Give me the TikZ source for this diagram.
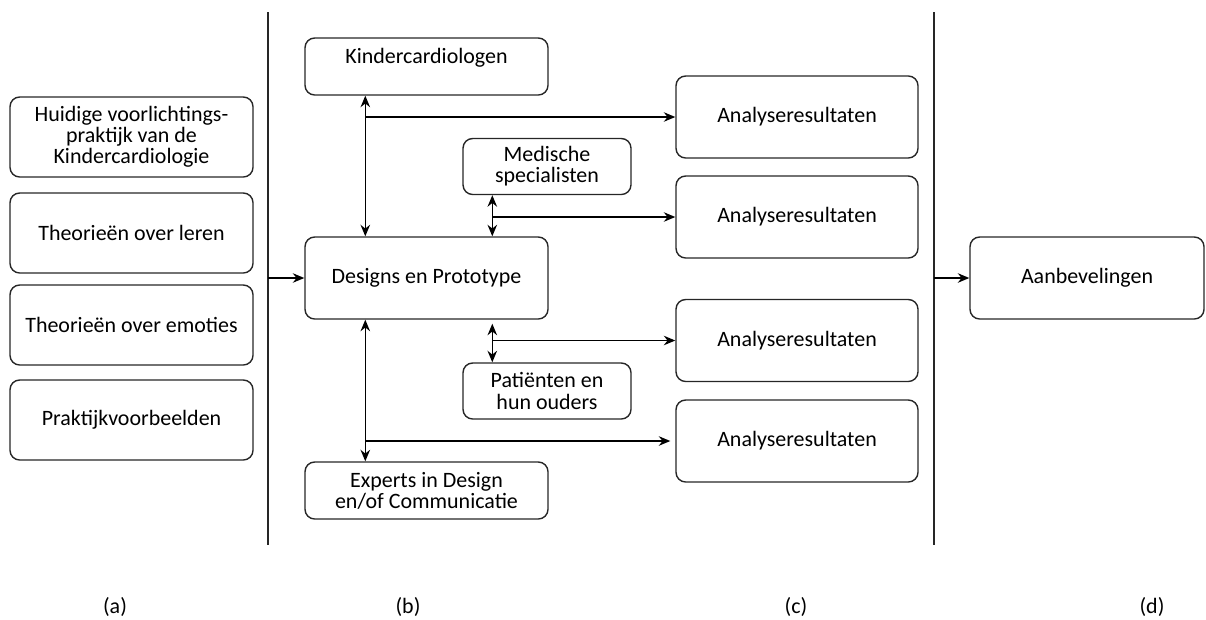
\documentclass[tikz,border=0pt]{standalone}
\usepackage{fontspec}
\setmainfont{Carlito}
\usetikzlibrary{arrows.meta,positioning,calc}
\tikzset{
  fasebox/.style={draw=black!85,line width=0.8pt,rounded corners=5.5pt,align=center,font=\fontsize{12.5}{12}\selectfont,inner sep=2pt},
  brbox/.style={fasebox,minimum width=243*0.02cm,minimum height=80*0.02cm},
  midbox/.style={fasebox,minimum width=243*0.02cm,minimum height=57*0.02cm},
  smbox/.style={fasebox,minimum width=168*0.02cm,minimum height=56*0.02cm},
  resbox/.style={fasebox,minimum width=242*0.02cm,minimum height=82*0.02cm},
  faselijn/.style={draw=black!85,line width=0.8pt},
  fasepijl/.style={-{Stealth[length=2.3mm,width=1.9mm]},draw=black,line width=0.8pt},
  dubbelpijl/.style={{Stealth[length=2.3mm,width=1.9mm]}-{Stealth[length=2.3mm,width=1.9mm]},draw=black,line width=0.8pt},
  faselabel/.style={font=\fontsize{12.5}{12}\selectfont}
}
\begin{document}
\begin{tikzpicture}[x=0.02cm,y=-0.02cm]
\useasboundingbox (0,0) rectangle (1206,619);
% (a) bronnen
\node[brbox] (bron1) at (131.5,137) {Huidige voorlichtings-\\praktijk van de\\Kindercardiologie};
\node[brbox] (bron2) at (131.5,233) {Theorieën over leren};
\node[brbox] (bron3) at (131.5,325) {Theorieën over emoties};
\node[brbox] (bron4) at (131.5,420) {Praktijkvoorbeelden};
% scheidingslijnen
\coordinate (lijnA) at (268,12);
\coordinate (lijnB) at (934,12);
\draw[faselijn] (lijnA) -- ++(0,533);
\draw[faselijn] (lijnB) -- ++(0,533);
% (b) ontwerp en evaluatie
\node[midbox] (kinder) at (426.5,66.5) {Kindercardiologen\\\mbox{}};
\node[smbox] (medisch) at (547,166.5) {Medische\\specialisten};
\node[fasebox,minimum width=243*0.02cm,minimum height=82*0.02cm] (design) at (426.5,278) {Designs en Prototype};
\node[smbox] (patient) at (547,391) {Patiënten en\\hun ouders};
\node[midbox] (expert) at (426.5,490.5) {Experts in Design\\en/of Communicatie};
% (c) resultaten
\foreach \n/\y in {1/117,2/217,3/340.5,4/441}{
  \node[resbox] (res\n) at (797,\y) {Analyseresultaten};
}
% (d)
\node[fasebox,minimum width=234*0.02cm,minimum height=82*0.02cm] (advies) at (1087,278) {Aanbevelingen};
% verbindingen
\coordinate (k1) at ($(kinder.south west)+(61,0)$);
\coordinate (m1) at ($(medisch.south west)+(30,0)$);
\coordinate (m2) at ($(design.south -| m1)+(0,4)$);
\draw[dubbelpijl] (k1) -- (k1 |- design.north);
\draw[dubbelpijl] (m1) -- (m1 |- design.north);
\draw[dubbelpijl] (m2) -- (m1 |- patient.north);
\draw[dubbelpijl] (k1 |- design.south) -- (k1 |- expert.north);
\draw[fasepijl] (k1 |- res1.west) -- (res1.west);
\draw[fasepijl] (m1 |- res2.west) -- (res2.west);
\draw[fasepijl] (m1 |- res3.west) -- (res3.west);
\draw[fasepijl] (k1 |- res4.west) -- ($(res4.west)+(-5,0)$);
\draw[fasepijl] (lijnA |- design.west) -- (design.west);
\draw[fasepijl] (lijnB |- advies.west) -- (advies.west);
% labels
\node[faselabel] (la) at (115,607) {(a)};
\node[faselabel] (lb) at (408,607) {(b)};
\node[faselabel] (lc) at (796,607) {(c)};
\node[faselabel] (ld) at (1152,607) {(d)};
\end{tikzpicture}
\end{document}
